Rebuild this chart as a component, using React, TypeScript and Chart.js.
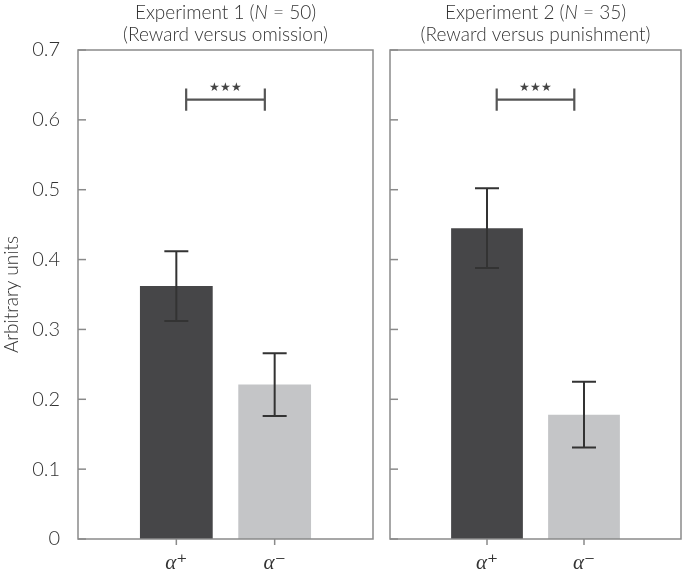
import React, { useEffect, useRef } from 'react';
import { Chart, registerables } from 'chart.js';

Chart.register(...registerables);

// ---- Data ----
const categories = ['', 'α⁺', 'α⁻', ''];
const exp1Means = [0.362, 0.221];
const exp1Errors = [0.05, 0.045];
const exp2Means = [0.445, 0.178];
const exp2Errors = [0.057, 0.047];
const exp1Title = ['Experiment 1 (', 'N', ' = 50)'];
const exp1Subtitle = '(Reward versus omission)';
const exp2Title = ['Experiment 2 (', 'N', ' = 35)'];
const exp2Subtitle = '(Reward versus punishment)';
const yLabel = 'Arbitrary units';
const yMin = 0;
const yMax = 0.7;
const yStep = 0.1;
const bracketFrom = 1.1;
const bracketTo = 1.9;
const bracketValue = 0.629;
const bracketLow = 0.613;
const bracketHigh = 0.645;
const bracketLabel = '★★★';

const barColors = ['#464648', '#c4c5c7'];
const SANS = 'Lato, "Open Sans", sans-serif';
const SERIF = '"Liberation Serif", "DejaVu Serif", serif';
const TEXT = '#333333';
const FRAME = '#8a8a8a';

function makeDecor(titleParts: string[], subtitle: string, means: number[], errors: number[]) {
  return {
    id: 'panelDecor',
    afterDatasetsDraw(chart: any) {
      const { ctx, chartArea } = chart;
      const xs = chart.scales.x;
      const ys = chart.scales.y;
      const { left, right, top, bottom } = chartArea;
      ctx.save();
      // frame
      ctx.strokeStyle = FRAME;
      ctx.lineWidth = 1.5;
      ctx.strokeRect(left, top, right - left, bottom - top);
      // inward y ticks
      ys.ticks.forEach((t: any) => {
        const py = ys.getPixelForValue(t.value);
        ctx.beginPath();
        ctx.moveTo(left, py);
        ctx.lineTo(left + 8, py);
        ctx.stroke();
      });
      // outward x ticks
      [1, 2].forEach((i) => {
        const px = xs.getPixelForValue(i);
        ctx.beginPath();
        ctx.moveTo(px, bottom);
        ctx.lineTo(px, bottom + 6);
        ctx.stroke();
      });
      // error bars
      const meta = chart.getDatasetMeta(0);
      ctx.strokeStyle = '#333333';
      ctx.lineWidth = 2;
      means.forEach((m, k) => {
        const el = meta.data[k + 1];
        const px = el.x;
        const yt = ys.getPixelForValue(m + errors[k]);
        const yb = ys.getPixelForValue(m - errors[k]);
        ctx.beginPath();
        ctx.moveTo(px, yt);
        ctx.lineTo(px, yb);
        ctx.moveTo(px - 12, yt);
        ctx.lineTo(px + 12, yt);
        ctx.moveTo(px - 12, yb);
        ctx.lineTo(px + 12, yb);
        ctx.stroke();
      });
      // significance bracket
      const bx1 = xs.getPixelForValue(bracketFrom);
      const bx2 = xs.getPixelForValue(bracketTo);
      const by = ys.getPixelForValue(bracketValue);
      const byl = ys.getPixelForValue(bracketLow);
      const byh = ys.getPixelForValue(bracketHigh);
      ctx.strokeStyle = '#555555';
      ctx.lineWidth = 2.2;
      ctx.beginPath();
      ctx.moveTo(bx1, by);
      ctx.lineTo(bx2, by);
      ctx.moveTo(bx1, byl);
      ctx.lineTo(bx1, byh);
      ctx.moveTo(bx2, byl);
      ctx.lineTo(bx2, byh);
      ctx.stroke();
      ctx.fillStyle = '#444444';
      ctx.font = `12px ${SANS}`;
      ctx.textAlign = 'center';
      ctx.textBaseline = 'middle';
      ctx.fillText(bracketLabel, (bx1 + bx2) / 2, by - 12);
      // titles
      const cx = (left + right) / 2;
      ctx.fillStyle = TEXT;
      ctx.textBaseline = 'middle';
      const normal = `300 19px ${SANS}`;
      const italic = `italic 300 19px ${SANS}`;
      const fonts = [normal, italic, normal];
      let total = 0;
      const widths = titleParts.map((s, i) => {
        ctx.font = fonts[i];
        const w = ctx.measureText(s).width;
        total += w;
        return w;
      });
      let x = cx - total / 2;
      ctx.textAlign = 'left';
      titleParts.forEach((s, i) => {
        ctx.font = fonts[i];
        ctx.fillText(s, x, 13);
        x += widths[i];
      });
      ctx.font = normal;
      ctx.textAlign = 'center';
      ctx.fillText(subtitle, cx, 35);
      ctx.restore();
    },
  };
}

function buildConfig(showY: boolean, means: number[], errors: number[], titleParts: string[], subtitle: string, padL: number, padR: number) {
  return {
    type: 'bar' as const,
    data: {
      labels: categories,
      datasets: [
        {
          data: [null, means[0], means[1], null],
          backgroundColor: ['transparent', barColors[0], barColors[1], 'transparent'],
          borderWidth: 0,
          barPercentage: 0.74,
          categoryPercentage: 1,
        },
      ],
    },
    options: {
      animation: false,
      responsive: false,
      layout: { padding: { top: 50, left: padL, right: padR, bottom: 0 } },
      plugins: {
        legend: { display: false },
        tooltip: { enabled: false },
        title: { display: false },
      },
      scales: {
        x: {
          type: 'category',
          offset: false,
          grid: { display: false },
          border: { display: false },
          ticks: {
            font: { family: SERIF, style: 'italic', size: 21 },
            color: TEXT,
            padding: 4,
            maxRotation: 0,
            autoSkip: false,
          },
          afterFit: (s: any) => {
            s.height = 34;
          },
        },
        y: {
          display: showY,
          min: yMin,
          max: yMax,
          grid: { display: false },
          border: { display: false },
          ticks: {
            stepSize: yStep,
            font: { family: SANS, size: 20, weight: '300' },
            color: TEXT,
            padding: 10,
          },
          title: {
            display: true,
            text: yLabel,
            font: { family: SANS, size: 19, weight: '300' },
            color: TEXT,
            padding: { top: 0, bottom: 0 },
          },
          afterFit: (s: any) => {
            if (showY) s.width = 78;
          },
        },
      },
    },
    plugins: [makeDecor(titleParts, subtitle, means, errors)],
  };
}

export default function App() {
  const leftRef = useRef<HTMLCanvasElement>(null);
  const rightRef = useRef<HTMLCanvasElement>(null);

  useEffect(() => {
    const c1 = new Chart(leftRef.current as HTMLCanvasElement, buildConfig(true, exp1Means, exp1Errors, exp1Title, exp1Subtitle, 0, 7) as any);
    const c2 = new Chart(rightRef.current as HTMLCanvasElement, buildConfig(false, exp2Means, exp2Errors, exp2Title, exp2Subtitle, 10, 1) as any);
    return () => {
      c1.destroy();
      c2.destroy();
    };
  }, []);

  return (
    <div style={{ position: 'fixed', left: 0, top: 0, width: 685, height: 573, background: '#ffffff' }}>
      <canvas ref={leftRef} width={380} height={573} style={{ position: 'absolute', left: 0, top: 0, width: 380, height: 573 }} />
      <canvas ref={rightRef} width={305} height={573} style={{ position: 'absolute', left: 380, top: 0, width: 305, height: 573 }} />
    </div>
  );
}
